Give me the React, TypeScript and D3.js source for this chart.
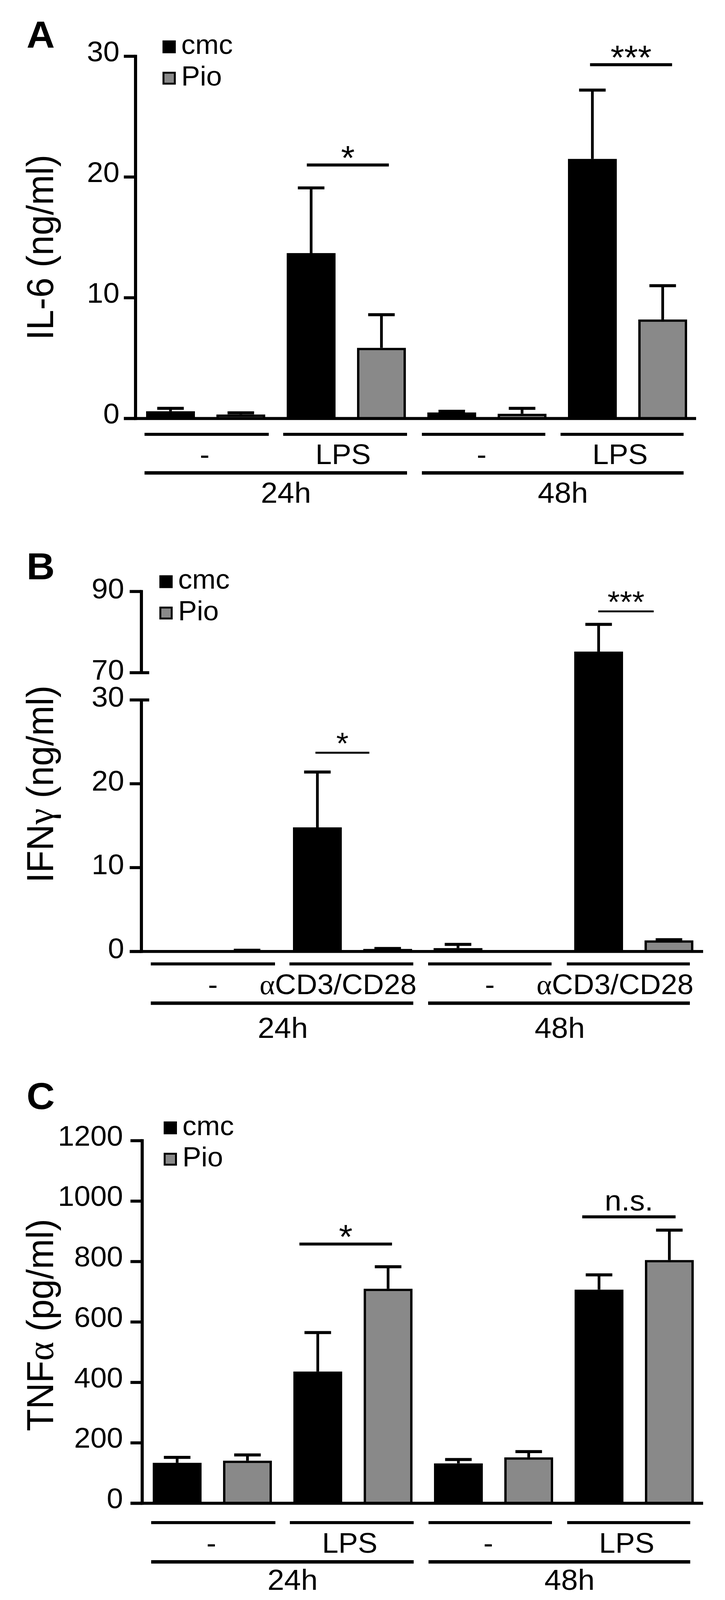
import React from 'react';
import * as d3 from 'd3';

// ---- data ----
const treatments = ['cmc', 'Pio'];
const times = ['24h', '48h'];
const stimLPS = ['-', 'LPS'];
const stimCD = ['-', 'αCD3/CD28'];

// bar order: 24h/-/cmc, 24h/-/Pio, 24h/stim/cmc, 24h/stim/Pio, 48h/...
const il6Mean = [0.6, 0.33, 13.7, 5.85, 0.5, 0.39, 21.5, 8.2];
const il6Sem = [0.24, 0.14, 5.4, 2.75, 0.1, 0.45, 5.7, 2.8];
const il6Ticks = [0, 10, 20, 30];
const il6Sig = [
  { a: 2, b: 3, level: 21.0, label: '*' },
  { a: 6, b: 7, level: 29.3, label: '***' },
];

const ifngMean = [0.05, 0.1, 14.8, 0.3, 0.4, 0.05, 75.2, 1.32];
const ifngSem = [0, 0.04, 6.6, 0.05, 0.44, 0, 6.7, 0.08];
const ifngTicks = [0, 10, 20, 30, 70, 90];
const ifngSig = [
  { a: 2, b: 3, level: 23.7, label: '*' },
  { a: 6, b: 7, level: 85.1, label: '***' },
];

const tnfMean = [134, 141, 436, 710, 132, 152, 707, 805];
const tnfSem = [18, 19, 129, 73, 13, 19, 49, 99];
const tnfTicks = [0, 200, 400, 600, 800, 1000, 1200];
const tnfSig = [
  { a: 2, b: 3, level: 858, label: '*' },
  { a: 6, b: 7, level: 948, label: 'n.s.' },
];

const W = 1856;
const H = 4236;
const PIO_GRAY = '#898989';
const SANS = "'Liberation Sans', Arial, Helvetica, sans-serif";
const SERIF = "'Liberation Serif', 'Times New Roman', serif";

type Sig = { a: number; b: number; level: number; label: string };

interface PanelProps {
  letter: string;
  letterY: number;
  title: React.ReactNode;
  titleY: number;
  mean: number[];
  sem: number[];
  ticks: number[];
  sig: Sig[];
  stim: string[];
  yDomain: number[];
  yRange: number[];
  axisX: number;
  bandRange: [number, number];
  baseEnd: number;
  tickLabelX: number;
  tickDy: number;
  legendX: number;
  legendY: number;
  lines: { g: number; label: number; t: number; time: number };
  dashDx: number;
  stimDx: number;
  timeDx: number;
  sigPads: [number, number][];
  starSize: number;
  starDy: number;
  sigStroke: number;
  broken?: boolean;
}

// keys for every bar
const barKeys = (stim: string[]) =>
  times.flatMap((t) => stim.flatMap((s, si) => treatments.map((tr) => `${t}|${si}|${tr}`)));

function Panel(p: PanelProps) {
  const keys = barKeys(p.stim);
  const x = d3.scaleBand<string>().domain(keys).range(p.bandRange).paddingInner(55 / 180).paddingOuter(0);
  const y = d3.scaleLinear().domain(p.yDomain).range(p.yRange);
  const bw = x.bandwidth();
  const y0 = y(0);
  const sw = 6;
  const left = (i: number) => x(keys[i]) as number;
  const cx = (i: number) => left(i) + bw / 2;
  const axisTop = y(p.yDomain[p.yDomain.length - 1]);

  // underline for each pair of bars, and for each time point
  const groups = d3.range(4).map((g) => ({
    x0: left(g * 2) - 4 - 5 * g,
    x1: left(g * 2 + 1) + bw + 9 - 6 * g,
    label: p.stim[g % 2],
  }));
  const timeSpans = times.map((t, ti) => ({
    x0: groups[ti * 2].x0,
    x1: groups[ti * 2 + 1].x1,
    label: t,
  }));

  return (
    <g>
      <text x={68} y={p.letterY} fontSize={100} fontWeight="bold" fontFamily={SANS}>
        {p.letter}
      </text>

      {/* y title */}
      <text
        transform={`translate(136,${p.titleY}) rotate(-90)`}
        textAnchor="middle"
        fontSize={96}
        fontFamily={SANS}
      >
        {p.title}
      </text>

      {/* legend */}
      {treatments.map((tr, i) => (
        <g key={tr}>
          <rect
            x={p.legendX + 2.5}
            y={p.legendY + i * 83 + 2.5}
            width={29}
            height={29}
            fill={i === 0 ? '#000' : PIO_GRAY}
            stroke="#000"
            strokeWidth={5}
          />
          <text x={p.legendX + 48} y={p.legendY + i * 83 + 36} fontSize={72} fontFamily={SANS}>
            {tr}
          </text>
        </g>
      ))}

      {/* bars */}
      {keys.map((k, i) => {
        const top = y(p.mean[i]);
        return (
          <rect
            key={k}
            x={left(i) + sw / 2}
            y={top + sw / 2}
            width={bw - sw}
            height={Math.max(0, y0 - top - sw / 2)}
            fill={k.endsWith('cmc') ? '#000' : PIO_GRAY}
            stroke="#000"
            strokeWidth={sw}
          />
        );
      })}

      {/* error bars (upper only) */}
      {keys.map((k, i) => {
        if (p.sem[i] <= 0) return null;
        const yt = y(p.mean[i]);
        const ye = y(p.mean[i] + p.sem[i]);
        const c = cx(i);
        return (
          <g key={`e${k}`} stroke="#000">
            <line x1={c} x2={c} y1={yt} y2={ye} strokeWidth={7} />
            <line x1={c - 34} x2={c + 34} y1={ye} y2={ye} strokeWidth={8} />
          </g>
        );
      })}

      {/* y axis */}
      {p.broken ? (
        <g stroke="#000" strokeWidth={8}>
          <line x1={p.axisX} x2={p.axisX} y1={y(90) - 4} y2={y(70)} />
          <line x1={p.axisX} x2={p.axisX} y1={y(30)} y2={y0 + 4} />
        </g>
      ) : (
        <line x1={p.axisX} x2={p.axisX} y1={axisTop - 4} y2={y0 + 4} stroke="#000" strokeWidth={8} />
      )}
      {p.ticks.map((t) => {
        const breakTick = p.broken && (t === 70 || t === 30);
        return (
          <g key={t}>
            <line
              x1={p.axisX - 30}
              x2={breakTick ? p.axisX + 20 : p.axisX}
              y1={y(t)}
              y2={y(t)}
              stroke="#000"
              strokeWidth={8}
            />
            <text x={p.tickLabelX} y={y(t) + p.tickDy} textAnchor="end" fontSize={75} fontFamily={SANS}>
              {t}
            </text>
          </g>
        );
      })}

      {/* baseline */}
      <line x1={p.axisX - 30} x2={p.baseEnd} y1={y0} y2={y0} stroke="#000" strokeWidth={8} />

      {/* significance */}
      {p.sig.map((s, si) => {
        const ly = y(s.level);
        const x1 = cx(s.a) + p.sigPads[si][0];
        const x2 = cx(s.b) + p.sigPads[si][1];
        const isStar = s.label.startsWith('*');
        return (
          <g key={s.label + s.a}>
            <line x1={x1} x2={x2} y1={ly} y2={ly} stroke="#000" strokeWidth={p.sigStroke} />
            <text
              x={(x1 + x2) / 2}
              y={isStar ? ly + p.starDy : ly - 17}
              textAnchor="middle"
              fontSize={isStar ? p.starSize : 77}
              fontFamily={SANS}
            >
              {s.label}
            </text>
          </g>
        );
      })}

      {/* category rows */}
      {groups.map((g, gi) => (
        <g key={`g${gi}`}>
          <line x1={g.x0} x2={g.x1} y1={p.lines.g} y2={p.lines.g} stroke="#000" strokeWidth={8} />
          <text
            x={(g.x0 + g.x1) / 2 + (g.label === '-' ? p.dashDx : p.stimDx)}
            y={p.lines.label}
            textAnchor="middle"
            fontSize={75}
            fontFamily={SANS}
          >
            {g.label.startsWith('α') ? (
              <>
                <tspan fontFamily={SERIF}>α</tspan>
                {g.label.slice(1)}
              </>
            ) : (
              g.label
            )}
          </text>
        </g>
      ))}
      {timeSpans.map((t) => (
        <g key={t.label}>
          <line x1={t.x0} x2={t.x1} y1={p.lines.t} y2={p.lines.t} stroke="#000" strokeWidth={9} />
          <text
            x={(t.x0 + t.x1) / 2 + p.timeDx}
            y={p.lines.time}
            textAnchor="middle"
            fontSize={77}
            fontFamily={SANS}
          >
            {t.label}
          </text>
        </g>
      ))}
    </g>
  );
}

const panels: PanelProps[] = [
  {
    letter: 'A',
    letterY: 126,
    title: 'IL-6  (ng/ml)',
    titleY: 655,
    mean: il6Mean,
    sem: il6Sem,
    ticks: il6Ticks,
    sig: il6Sig,
    stim: stimLPS,
    yDomain: [0, 30],
    yRange: [1108, 149],
    axisX: 347,
    bandRange: [374, 1759],
    baseEnd: 1782,
    tickLabelX: 306,
    tickDy: 13,
    legendX: 416,
    legendY: 107,
    lines: { g: 1150, label: 1229, t: 1252, time: 1331 },
    dashDx: -5,
    stimDx: -5,
    timeDx: 26,
    sigPads: [
      [-11, 19],
      [-6, 24],
    ],
    starSize: 90,
    starDy: 12,
    sigStroke: 8,
  },
  {
    letter: 'B',
    letterY: 1534,
    title: (
      <>
        IFN<tspan fontFamily={SERIF}>γ</tspan>  (ng/ml)
      </>
    ),
    titleY: 2076,
    mean: ifngMean,
    sem: ifngSem,
    ticks: ifngTicks,
    sig: ifngSig,
    stim: stimCD,
    yDomain: [0, 30, 70, 90],
    yRange: [2519, 1853, 1781, 1566],
    axisX: 362,
    bandRange: [390, 1775],
    baseEnd: 1800,
    tickLabelX: 318,
    tickDy: 18,
    legendX: 408,
    legendY: 1523,
    lines: { g: 2552, label: 2632, t: 2656, time: 2748 },
    dashDx: 0,
    stimDx: -34,
    timeDx: 2,
    sigPads: [
      [-5, -47],
      [-1, -39],
    ],
    starSize: 81,
    starDy: 3,
    sigStroke: 5,
    broken: true,
  },
  {
    letter: 'C',
    letterY: 2936,
    title: (
      <>
        TNF<tspan fontFamily={SERIF}>α</tspan>  (pg/ml)
      </>
    ),
    titleY: 3508,
    mean: tnfMean,
    sem: tnfSem,
    ticks: tnfTicks,
    sig: tnfSig,
    stim: stimLPS,
    yDomain: [0, 1200],
    yRange: [3980, 3020],
    axisX: 364,
    bandRange: [391, 1776],
    baseEnd: 1800,
    tickLabelX: 315,
    tickDy: 13,
    legendX: 419,
    legendY: 2969,
    lines: { g: 4031, label: 4111, t: 4135, time: 4209 },
    dashDx: -5,
    stimDx: -5,
    timeDx: 26,
    sigPads: [
      [-47, 10],
      [-43, 16],
    ],
    starSize: 90,
    starDy: 12,
    sigStroke: 8,
  },
];

export default function App() {
  // the drawing is laid out on a 1856 x 4236 grid and stretched to the visible window,
  // so nothing at the bottom is lost if the viewport is a little shorter
  return (
    <>
      <style>{'html,body{margin:0;padding:0;background:#fff;overflow:hidden;}'}</style>
      <svg
        viewBox={`0 0 ${W} ${H}`}
        preserveAspectRatio="none"
        style={{ display: 'block', width: '100vw', height: '100vh', background: '#fff' }}
        xmlSpace="preserve"
      >
        <rect width={W} height={H} fill="#fff" />
        {panels.map((p) => (
          <Panel key={p.letter} {...p} />
        ))}
      </svg>
    </>
  );
}
